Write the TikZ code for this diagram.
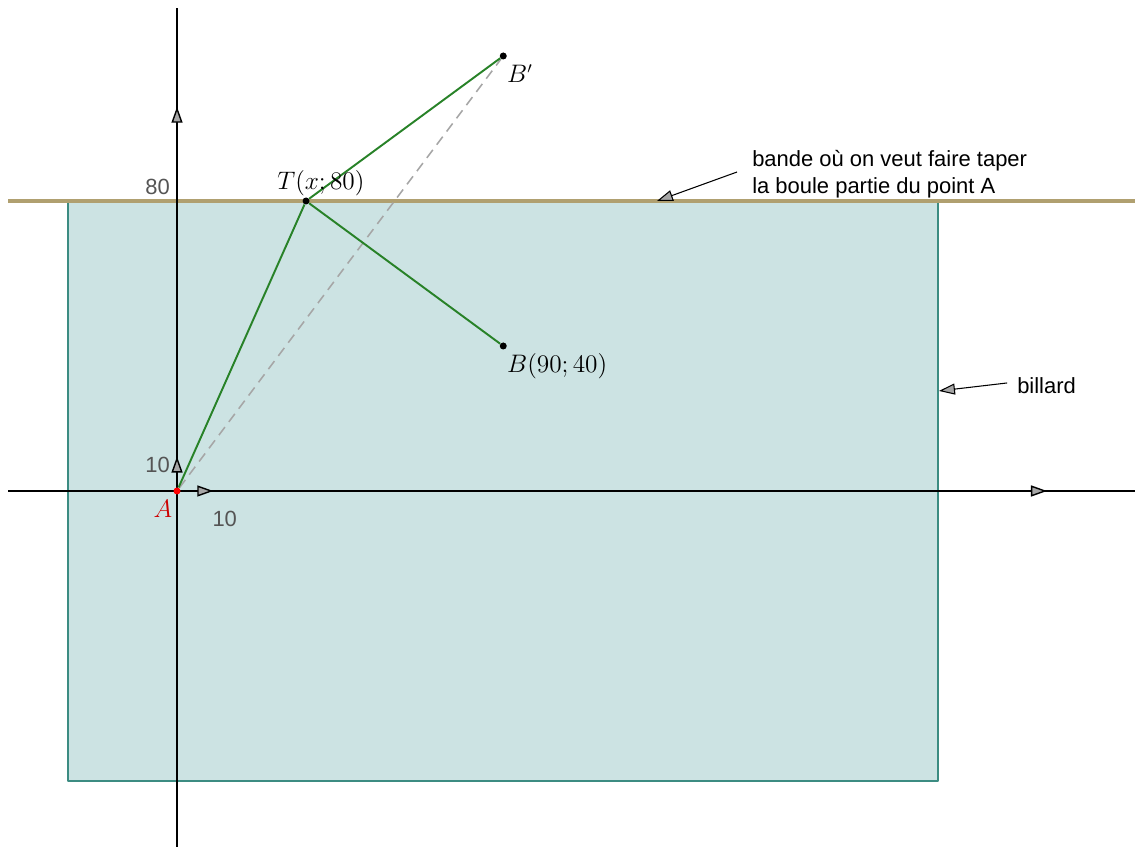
\documentclass[tikz,border=0pt]{standalone}
\usepackage{fontspec}
\usetikzlibrary{arrows.meta}
\newfontfamily\arial{Liberation Sans}
\definecolor{billardfond}{RGB}{204,227,227}
\definecolor{billardbord}{RGB}{60,140,130}
\definecolor{bandecoul}{RGB}{176,160,112}
\definecolor{trajet}{RGB}{40,130,40}
\definecolor{grisnum}{RGB}{85,85,85}
\tikzset{
  vec/.style={-{Triangle[length=0.32cm, width=0.22cm, fill=gray!70]}, line width=0.8pt},
  note/.style={-{Triangle[length=0.32cm, width=0.22cm, fill=gray!70]}, line width=0.6pt},
  pt/.style={circle, fill=black, inner sep=0pt, minimum size=1.4mm},
  txt/.style={font=\arial\fontsize{12.5}{15}\selectfont, inner sep=0pt},
  mlab/.style={font=\fontsize{13.5}{16}\selectfont, inner sep=0pt}
}
\begin{document}
\begin{tikzpicture}[x=0.0725cm, y=0.0725cm, line join=round]
				\useasboundingbox (-48.83,-98.21) rectangle (264.28,135.45);
				
				\coordinate (O) at (0,0);
				\coordinate (xdeb) at (-46.6,0);
				\coordinate (xfin) at (264.3,0);
				\coordinate (ydeb) at (0,-98.2);
				\coordinate (yfin) at (0,133.2);
				\coordinate (xvec) at (240,0);
				\coordinate (yvec) at (0,106);
				\coordinate (ivec) at (10,0);
				\coordinate (jvec) at (0,9.5);
				\coordinate (bandeG) at (-46.6,80);
				\coordinate (bandeD) at (264.3,80);
				
				% billard
				\fill[billardfond] (-30,-80) rectangle (210,80);
				\draw[billardbord, line width=1pt] (-30,80) -- (-30,-80) -- (210,-80) -- (210,80);
				\draw[bandecoul, line width=1.8pt] (bandeG) -- (bandeD);
				
				% axes
				\draw[line width=0.8pt] (xdeb) -- (xfin);
				\draw[line width=0.8pt] (ydeb) -- (yfin);
				\draw[vec] (O) -- (xvec);
				\draw[vec] (O) -- (yvec);
				\draw[vec] (O) -- (ivec);
				\draw[vec] (O) -- (jvec);
				
				\node[pt, red] (A) at (0,0) {};
				\node[pt] (T) at (35.6,80) {};
				\node[pt] (B) at (90,40) {};
				\node[pt] (Bp) at (90,120) {};
				
				\draw[gray!70, line width=0.9pt, dash pattern=on 0.2cm off 0.13cm] (A) -- (Bp);
				\draw[trajet, line width=1.1pt] (A) -- (T) -- (Bp);
				\draw[trajet, line width=1.1pt] (T) -- (B);
				
				\node[txt, text=grisnum, anchor=base east] (l80) at (-1.9,81.7) {80};
				\node[txt, text=grisnum, anchor=base east] (l10y) at (-1.9,5) {10};
				\node[txt, text=grisnum, anchor=base west] (l10x) at (9.7,-9.7) {10};
				
				\node[mlab, red!80!black, anchor=base] (lA) at (-3.9,-7.2) {$A$};
				\node[mlab, anchor=base] (lT) at (39.7,83.3) {$T(x;80)$};
				\node[mlab, anchor=base west] (lBp) at (91,112.6) {$B'$};
				\node[mlab, anchor=base west] (lB) at (91,32.6) {$B(90;40)$};
				
				\node[txt, anchor=base west] (bande1) at (158.6,89.4) {bande où on veut faire taper};
				\node[txt, anchor=base west] (bande2) at (158.6,82.2) {la boule partie du point A};
				\node[txt, anchor=base west] (billard) at (231.7,27.0) {billard};
				
				\coordinate (flecheA) at (154.5,88);
				\coordinate (pointeA) at (132.4,80);
				\coordinate (flecheB) at (229,29.8);
				\coordinate (pointeB) at (210.2,27.6);
				\draw[note] (flecheA) -- (pointeA);
				\draw[note] (flecheB) -- (pointeB);
				
			\end{tikzpicture}
\end{document}
